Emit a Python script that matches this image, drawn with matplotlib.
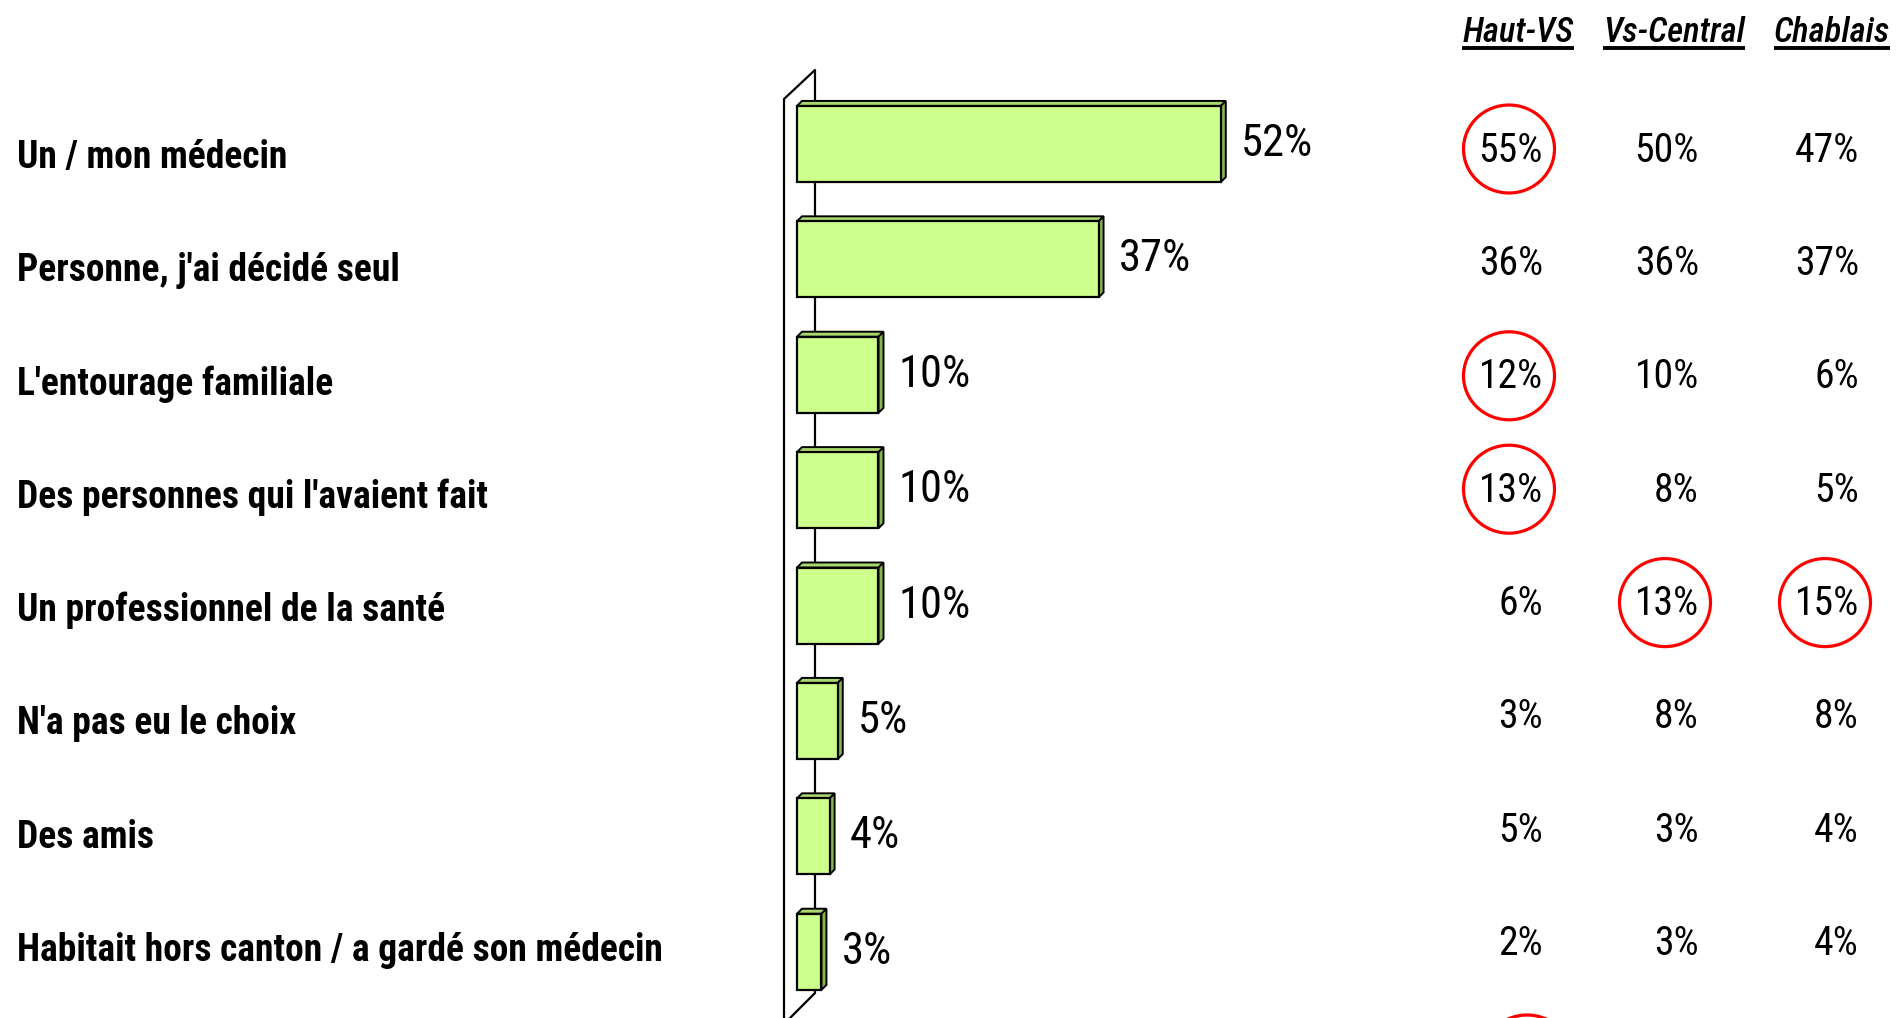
import matplotlib
matplotlib.use("Agg")
import matplotlib.pyplot as plt
from matplotlib.patches import Polygon, Ellipse

# data
categories = [
    "Un / mon médecin",
    "Personne, j'ai décidé seul",
    "L'entourage familiale",
    "Des personnes qui l'avaient fait",
    "Un professionnel de la santé",
    "N'a pas eu le choix",
    "Des amis",
    "Habitait hors canton / a gardé son médecin",
]
total = [52, 37, 10, 10, 10, 5, 4, 3]
regions = ["Haut-VS", "Vs-Central", "Chablais"]
haut_vs = [55, 36, 12, 13, 6, 3, 5, 2]
vs_central = [50, 36, 10, 8, 13, 8, 3, 3]
chablais = [47, 37, 6, 5, 15, 8, 4, 4]
# circled (significant) cells: (row, region index)
circled = [(0, 0), (2, 0), (3, 0), (4, 1), (4, 2)]

plt.rcParams["font.family"] = ["Roboto Condensed", "Liberation Sans Narrow", "DejaVu Sans"]

W, H = 1897, 1018
fig = plt.figure(figsize=(W / 100, H / 100), dpi=100)

# pixel layout of the bar area
X0 = 797          # x of 0 %
PX_PCT = 8.15     # pixels per percent
ROW0 = 144        # y of first bar centre
ROW_STEP = 115.4  # pixels between bars
DEPTH = 5         # 3d depth in pixels

ax = fig.add_axes([0, 0, 1, 1])
ax.set_xlim(-X0 / PX_PCT, (W - X0) / PX_PCT)
ax.set_ylim((H - ROW0) / ROW_STEP, -ROW0 / ROW_STEP)
ax.axis("off")

ddx = DEPTH / PX_PCT
ddy = DEPTH / ROW_STEP
bar_h = 0.66

# side wall
wf = (784 - X0) / PX_PCT
wb = (815 - X0) / PX_PCT
wtop_f = (99 - ROW0) / ROW_STEP
wtop_b = (70 - ROW0) / ROW_STEP
wbot_b = (993 - ROW0) / ROW_STEP
ax.plot([wf, wf, wb, wb, (788 - X0) / PX_PCT],
        [(H + 5 - ROW0) / ROW_STEP, wtop_f, wtop_b, wbot_b, (1020 - ROW0) / ROW_STEP],
        color="black", lw=1.6, zorder=1, clip_on=False)

rows = list(range(len(categories)))
front = "#ccff8c"
top_c = "#a9d86e"
side_c = "#86b451"
for i, v in zip(rows, total):
    t = i - bar_h / 2
    b = i + bar_h / 2
    ax.add_patch(Polygon([(0, t), (v, t), (v + ddx, t - ddy), (ddx, t - ddy)],
                         closed=True, facecolor=top_c, edgecolor="black", lw=1.4, zorder=2))
    ax.add_patch(Polygon([(v, t), (v, b), (v + ddx, b - ddy), (v + ddx, t - ddy)],
                         closed=True, facecolor=side_c, edgecolor="black", lw=1.4, zorder=2))
ax.barh(rows, total, height=bar_h, color=front, edgecolor="black", lw=1.6, zorder=3)
for i, v in zip(rows, total):
    ax.text(v + 20 / PX_PCT, i, f"{v}%", fontsize=32, va="center", ha="left", zorder=4)

# overlay in pixels for the table part
ov = fig.add_axes([0, 0, 1, 1], facecolor="none")
ov.set_xlim(0, W)
ov.set_ylim(H, 0)
ov.axis("off")

for i, c in enumerate(categories):
    ov.text(17, 157 + 113.4 * i, c, fontsize=27, fontweight="bold", va="center", ha="left")

col_right = [1543, 1699, 1859]
col_head = [1518, 1674, 1832]
fig.canvas.draw()
renderer = fig.canvas.get_renderer()
for x, name in zip(col_head, regions):
    t = ov.text(x, 32, name, fontsize=25, style="italic", fontweight="medium",
                ha="center", va="center")
    bb = t.get_window_extent(renderer)
    ov.plot([bb.x0, bb.x1], [48, 48], color="black", lw=2.8, solid_capstyle="butt")

for j, vals in enumerate([haut_vs, vs_central, chablais]):
    for i, v in enumerate(vals):
        ov.text(col_right[j], 150 + 113.4 * i, f"{v}%", fontsize=28.5, ha="right", va="center")

for i, j in circled:
    ov.add_patch(Ellipse((col_right[j] - 34, 149 + 113.4 * i), 91, 88,
                         fill=False, edgecolor="red", lw=2.3))
# circle of the next (cut off) row
ov.add_patch(Ellipse((1527, 1059), 91, 88, fill=False, edgecolor="red", lw=2.3, clip_on=False))

fig.savefig("out.png", dpi=100)
